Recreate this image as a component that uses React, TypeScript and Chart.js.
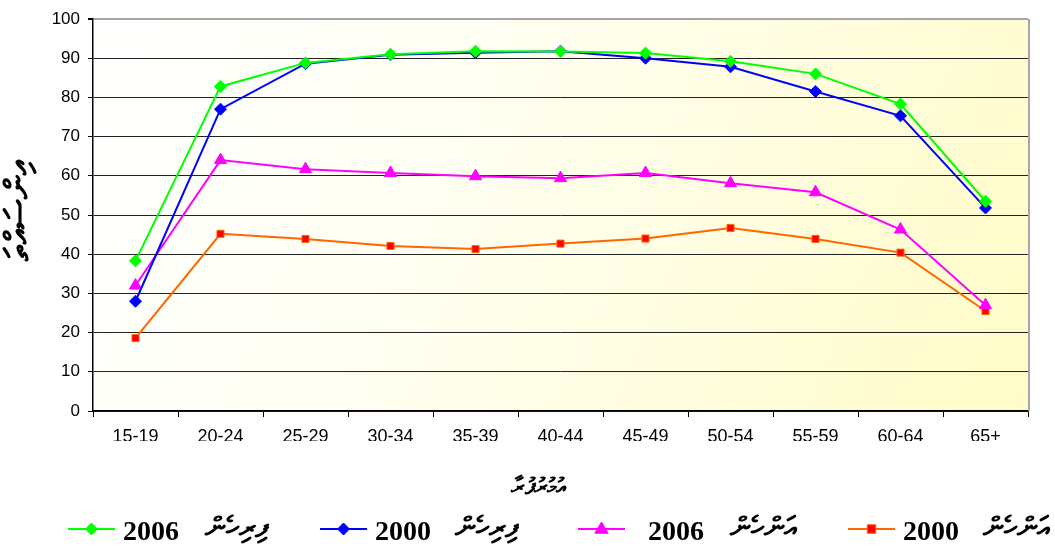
import React, { useEffect, useRef } from "react";
import { Chart, registerables } from "chart.js";

Chart.register(...registerables);

const ageGroups = ["15-19", "20-24", "25-29", "30-34", "35-39", "40-44", "45-49", "50-54", "55-59", "60-64", "65+"];
const male2006 = [38.3, 82.8, 88.8, 91.0, 91.8, 91.7, 91.3, 89.2, 86.0, 78.3, 53.5];
const male2000 = [28.0, 77.0, 88.6, 90.9, 91.4, 91.8, 90.0, 87.8, 81.5, 75.3, 51.8];
const female2006 = [32.0, 64.0, 61.7, 60.7, 59.9, 59.4, 60.7, 58.1, 55.8, 46.3, 27.0];
const female2000 = [18.6, 45.2, 43.9, 42.1, 41.3, 42.7, 44.0, 46.7, 43.9, 40.4, 25.5];
const legendYears = ["2006", "2000", "2006", "2000"];
const legendNames = ["ފިރިހެން", "ފިރިހެން", "އަންހެން", "އަންހެން"];
const yAxisTitle = "އިންސައްތަ";
const xAxisTitle = "އުމުރުފުރާ";
const yMax = 100;
const yStep = 10;

const lineColors = ["#00FF00", "#0000FF", "#FF00FF", "#FF6600"];
const markerFill = ["#00FF00", "#0000FF", "#FF00FF", "#FF0000"];
const markerStyles = ["rectRot", "rectRot", "triangle", "rect"];
const markerRadius = [6, 6, 7, 5];

function drawMarker(ctx: CanvasRenderingContext2D, style: string, x: number, y: number, r: number, fill: string, stroke: string) {
  ctx.save();
  ctx.fillStyle = fill;
  ctx.strokeStyle = stroke;
  ctx.lineWidth = 1;
  ctx.beginPath();
  if (style === "rectRot") {
    ctx.moveTo(x, y - r);
    ctx.lineTo(x + r, y);
    ctx.lineTo(x, y + r);
    ctx.lineTo(x - r, y);
    ctx.closePath();
  } else if (style === "triangle") {
    ctx.moveTo(x, y - r);
    ctx.lineTo(x + r * 0.95, y + r * 0.6);
    ctx.lineTo(x - r * 0.95, y + r * 0.6);
    ctx.closePath();
  } else {
    const s = r * 0.85;
    ctx.rect(x - s, y - s, 2 * s, 2 * s);
  }
  ctx.fill();
  ctx.stroke();
  ctx.restore();
}

const decorPlugin = {
  id: "decor",
  beforeDraw(chart: any) {
    const { ctx, chartArea } = chart;
    const { left, top, right, bottom } = chartArea;
    ctx.save();
    ctx.fillStyle = "#FFFFFF";
    ctx.fillRect(0, 0, chart.width, chart.height);
    const g = ctx.createLinearGradient(left, top, right, bottom);
    g.addColorStop(0, "#FFFFFF");
    g.addColorStop(0.35, "#FFFFF4");
    g.addColorStop(1, "#FFFCC8");
    ctx.fillStyle = g;
    ctx.fillRect(left, top, right - left, bottom - top);
    ctx.restore();
  },
  afterDraw(chart: any) {
    const { ctx, chartArea } = chart;
    const { top, right, bottom } = chartArea;
    ctx.save();
    // right border
    ctx.strokeStyle = "#A6A6A6";
    ctx.lineWidth = 2;
    ctx.beginPath();
    ctx.moveTo(right + 1, top);
    ctx.lineTo(right + 1, bottom);
    ctx.stroke();

    // axis titles
    ctx.fillStyle = "#000";
    ctx.font = "bold 23px 'DejaVu Sans', sans-serif";
    ctx.textAlign = "center";
    ctx.textBaseline = "middle";
    ctx.fillText(xAxisTitle, 538, 488);
    ctx.save();
    ctx.translate(20, 210);
    ctx.rotate(-Math.PI / 2);
    ctx.font = "bold 34px 'DejaVu Sans', sans-serif";
    ctx.fillText(yAxisTitle, 0, 0);
    ctx.restore();

    // legend
    const lineStarts = [68, 320, 578, 848];
    const numX = [123, 375, 648, 903];
    const nameX = [205, 455, 730, 983];
    const ly = 529;
    for (let i = 0; i < 4; i++) {
      ctx.strokeStyle = lineColors[i];
      ctx.lineWidth = 2;
      ctx.beginPath();
      ctx.moveTo(lineStarts[i], ly);
      ctx.lineTo(lineStarts[i] + 47, ly);
      ctx.stroke();
      drawMarker(ctx, markerStyles[i], lineStarts[i] + 23.5, ly, markerRadius[i], markerFill[i], i === 3 ? "#FF6600" : lineColors[i]);
      ctx.fillStyle = "#000";
      ctx.textAlign = "left";
      ctx.textBaseline = "alphabetic";
      ctx.font = "bold 28px 'Liberation Serif', 'Times New Roman', serif";
      ctx.fillText(legendYears[i], numX[i], 540);
      ctx.font = "bold 29px 'DejaVu Sans', sans-serif";
      ctx.fillText(legendNames[i], nameX[i], 537);
    }
    ctx.restore();
  },
};

export default function App() {
  const ref = useRef<HTMLCanvasElement | null>(null);
  useEffect(() => {
    if (!ref.current) return;
    const series = [male2006, male2000, female2006, female2000];
    const chart = new Chart(ref.current, {
      type: "line",
      data: {
        labels: ageGroups,
        datasets: series.map((d, i) => ({
          label: `${legendNames[i]} ${legendYears[i]}`,
          data: d,
          borderColor: lineColors[i],
          backgroundColor: markerFill[i],
          borderWidth: 2,
          pointStyle: markerStyles[i] as any,
          pointRadius: markerRadius[i],
          pointBorderColor: i === 3 ? "#FF6600" : lineColors[i],
          pointBackgroundColor: markerFill[i],
          pointBorderWidth: 1,
          tension: 0,
          fill: false,
        })),
      },
      options: {
        animation: false,
        responsive: false,
        maintainAspectRatio: false,
        layout: { padding: { left: 0, top: 19, right: 27, bottom: 105 } },
        plugins: {
          legend: { display: false },
          tooltip: { enabled: false },
          title: { display: false },
        },
        scales: {
          x: {
            type: "category",
            offset: true,
            grid: {
              display: true,
              drawOnChartArea: false,
              offset: true,
              tickLength: 6,
              color: "#000",
            },
            border: { display: true, color: "#000", width: 1.5 },
            ticks: {
              color: "#000",
              padding: 9,
              maxRotation: 0,
              font: { family: "'Liberation Sans', Arial, sans-serif", size: 18 },
            },
            afterFit(scale: any) {
              scale.height = 30;
            },
          },
          y: {
            min: 0,
            max: yMax,
            ticks: {
              stepSize: yStep,
              color: "#000",
              padding: 8,
              font: { family: "'Liberation Sans', Arial, sans-serif", size: 17 },
            },
            grid: {
              color: (c: any) => (c.tick && c.tick.value === yMax ? "#A6A6A6" : "#222"),
              lineWidth: (c: any) => (c.tick && c.tick.value === yMax ? 2 : 1),
              tickColor: "#000",
              tickLength: 5,
            },
            border: { display: true, color: "#000", width: 1.5 },
            afterFit(scale: any) {
              scale.width = 93;
            },
          },
        },
      },
      plugins: [decorPlugin],
    });
    return () => chart.destroy();
  }, []);
  return (
    <div style={{ position: "fixed", left: 0, top: 0, width: 1055, height: 546, background: "#fff" }}>
      <canvas ref={ref} width={1055} height={546} style={{ display: "block", width: 1055, height: 546 }} />
    </div>
  );
}
